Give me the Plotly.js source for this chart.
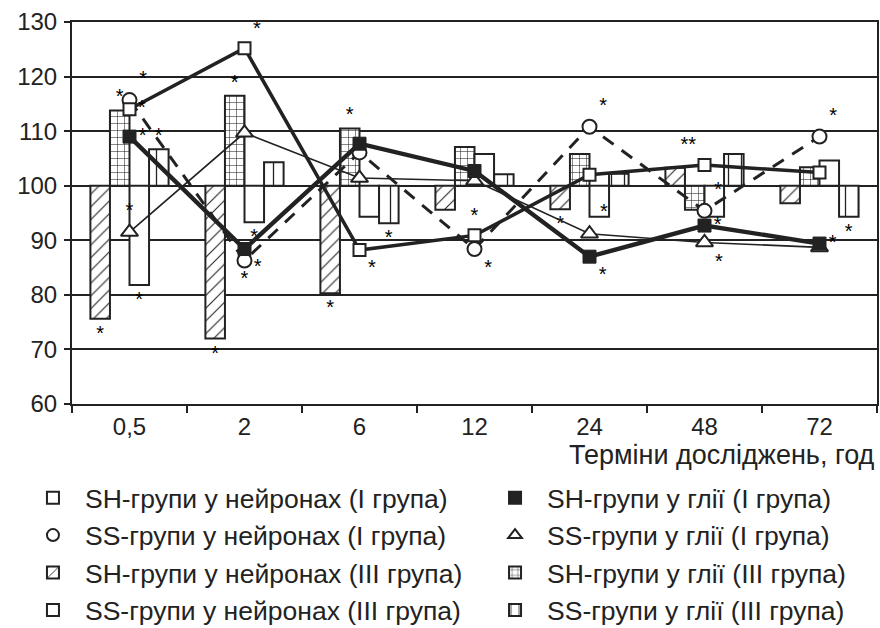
<!DOCTYPE html>
<html>
<head>
<meta charset="utf-8">
<script src="https://cdn.plot.ly/plotly-3.0.1.min.js"></script>
<style>
  html, body { margin: 0; padding: 0; background: #ffffff; }
  #chart { width: 880px; height: 628px; }
</style>
</head>
<body>
<div id="chart"></div>
<script>
// Categories (hours)
const categories = ["0,5", "2", "6", "12", "24", "48", "72"];

// Line series (I група), % of control
const shNeuronsI = [114.0, 125.2, 88.2, 90.9, 102.0, 103.8, 102.4];
const ssNeuronsI = [115.7, 86.3, 106.1, 88.4, 110.8, 95.4, 109.0];
const shGliaI    = [109.0, 88.4, 107.7, 102.7, 87.0, 92.7, 89.4];
const ssGliaI    = [91.5, 109.7, 101.4, 100.9, 91.2, 89.6, 88.7];

// Bar series (III група), % of control, drawn from the 100 baseline
const shNeuronsIII = [75.6, 72.0, 80.3, 95.6, 95.7, 103.3, 96.8];
const shGliaIII    = [113.8, 116.5, 110.5, 107.1, 105.8, 95.6, 103.4];
const ssNeuronsIII = [81.8, 93.3, 94.3, 105.8, 94.3, 94.3, 104.6];
const ssGliaIII    = [106.7, 104.3, 93.1, 102.1, 102.2, 105.8, 94.3];

// Significance marks
const sigShNeuronsI = ["*", "*", "*", "*", "", "**", ""];
const sigSsNeuronsI = ["*", "*", "", "*", "*", "*", "*"];
const sigShGliaI    = ["*", "*", "", "", "*", "*", "*"];
const sigSsGliaI    = ["*", "", "", "", "*", "*", ""];
const sigShNeuronsIII = ["*", "*", "*", "", "*", "", ""];
const sigShGliaIII    = ["*", "*", "*", "", "", "", ""];
const sigSsNeuronsIII = ["*", "*", "", "", "", "", ""];
const sigSsGliaIII    = ["*", "", "*", "", "", "", "*"];

// Legend labels
const names = {
  shNeuronsI: "SH-групи у нейронах (I група)",
  ssNeuronsI: "SS-групи у нейронах (I група)",
  shGliaI: "SH-групи у глії (I група)",
  ssGliaI: "SS-групи у глії (I група)",
  shNeuronsIII: "SH-групи у нейронах (III група)",
  shGliaIII: "SH-групи у глії (III група)",
  ssNeuronsIII: "SS-групи у нейронах (III група)",
  ssGliaIII: "SS-групи у глії (III група)"
};
const xTitle = "Терміни досліджень, год";

const FONT = "'Liberation Sans', Arial, sans-serif";
const INK = "#222";
const BASE = 100;
const starFont = {size: 20, color: "#000", family: FONT};

function lineTrace(vals, sig, pos, name, lineStyle, marker) {
  return {
    type: "scatter", mode: "lines+markers+text",
    x: categories, y: vals, name: name,
    text: sig, textposition: pos, textfont: starFont,
    line: lineStyle, marker: marker,
    showlegend: false, cliponaxis: false, hoverinfo: "x+y+name"
  };
}
function legendTrace(name, marker, legend, grp) {
  return {
    type: "scatter", mode: "markers", x: [null], y: [null],
    name: name, marker: marker, legend: legend, legendgroup: grp, showlegend: true
  };
}
function barTrace(vals, sig, name, pattern, legend, grp) {
  return {
    type: "bar", x: categories,
    y: vals.map(v => v - BASE), base: BASE,
    name: name, legend: legend, legendgroup: grp,
    text: sig, textposition: "outside", textfont: starFont,
    cliponaxis: false,
    marker: {color: "#ffffff", line: {color: INK, width: 2}, pattern: pattern},
    hovertemplate: "%{x}: %{customdata}<extra>" + name + "</extra>",
    customdata: vals
  };
}

const mSHN = {symbol: "square", size: 12, color: "#fff", line: {color: INK, width: 2}};
const mSSN = {symbol: "circle", size: 14, color: "#fff", line: {color: INK, width: 2}};
const mSHG = {symbol: "square", size: 13, color: INK, line: {color: INK, width: 1}};
const mSSG = {symbol: "triangle-up", size: 15, color: "#fff", line: {color: INK, width: 2}};

const traces = [
  // legend-only entries (marker symbols)
  legendTrace(names.shNeuronsI, mSHN, "legend", "a1"),
  legendTrace(names.ssNeuronsI, mSSN, "legend", "a2"),
  legendTrace(names.shGliaI, mSHG, "legend2", "b1"),
  legendTrace(names.ssGliaI, mSSG, "legend2", "b2"),
  // bars
  barTrace(shNeuronsIII, sigShNeuronsIII, names.shNeuronsIII,
    {shape: "/", fgcolor: INK, bgcolor: "#fff", size: 9, solidity: 0.12}, "legend", "a3"),
  barTrace(shGliaIII, sigShGliaIII, names.shGliaIII,
    {shape: "+", fgcolor: INK, bgcolor: "#fff", size: 7, solidity: 0.15}, "legend2", "b3"),
  barTrace(ssNeuronsIII, sigSsNeuronsIII, names.ssNeuronsIII,
    {shape: "", fgcolor: INK, bgcolor: "#fff"}, "legend", "a4"),
  barTrace(ssGliaIII, sigSsGliaIII, names.ssGliaIII,
    {shape: "|", fgcolor: INK, bgcolor: "#fff", size: 13, solidity: 0.1}, "legend2", "b4"),
  // lines
  lineTrace(ssGliaI, sigSsGliaI,
    ["top center","top center","top center","top center","top right","bottom right","top center"],
    names.ssGliaI, {color: INK, width: 1.6}, mSSG),
  lineTrace(ssNeuronsI, sigSsNeuronsI,
    ["top right","bottom center","top center","bottom right","top right","top right","top right"],
    names.ssNeuronsI, {color: INK, width: 3, dash: "13px,10px"}, mSSN),
  lineTrace(shNeuronsI, sigShNeuronsI,
    ["middle right","top right","bottom right","top center","top center","top left","top center"],
    names.shNeuronsI, {color: INK, width: 3.5}, mSHN),
  lineTrace(shGliaI, sigShGliaI,
    ["middle right","bottom right","top center","top center","bottom right","middle right","middle right"],
    names.shGliaI, {color: INK, width: 4.4}, mSHG)
];

const legendCommon = {
  orientation: "v", traceorder: "grouped", tracegroupgap: 0,
  font: {family: FONT, size: 26.5, color: INK},
  bgcolor: "rgba(0,0,0,0)", borderwidth: 0,
  xanchor: "left", yanchor: "top", itemsizing: "constant", itemwidth: 54
};

const layout = {
  width: 880, height: 628,
  margin: {l: 72, r: 3, t: 22, b: 224, autoexpand: false},
  paper_bgcolor: "#fff", plot_bgcolor: "#fff",
  font: {family: FONT, size: 24, color: INK},
  barmode: "group", bargap: 0.32, bargroupgap: 0,
  xaxis: {
    type: "category", showgrid: false, zeroline: false,
    showline: true, linecolor: INK, linewidth: 2, mirror: true,
    ticks: "outside", tickson: "boundaries", ticklen: 7, tickwidth: 2, tickcolor: INK,
    tickfont: {family: FONT, size: 24, color: INK}
  },
  yaxis: {
    range: [60, 130], dtick: 10, tick0: 60,
    showgrid: true, gridcolor: INK, gridwidth: 2, zeroline: false,
    showline: true, linecolor: INK, linewidth: 2, mirror: true,
    ticks: "outside", ticklen: 6, tickwidth: 2, tickcolor: INK, ticklabelstandoff: 2,
    tickfont: {family: FONT, size: 24, color: INK}
  },
  legend: Object.assign({}, legendCommon, {x: -0.0634, y: -0.183}),
  legend2: Object.assign({}, legendCommon, {x: 0.5106, y: -0.183}),
  annotations: [{
    text: xTitle, xref: "paper", yref: "paper",
    x: 1, y: -0.1335, xanchor: "right", yanchor: "middle", showarrow: false,
    font: {family: FONT, size: 27, color: INK}
  }],
  showlegend: true
};

Plotly.newPlot("chart", traces, layout, {displayModeBar: false, staticPlot: true});
</script>
</body>
</html>
